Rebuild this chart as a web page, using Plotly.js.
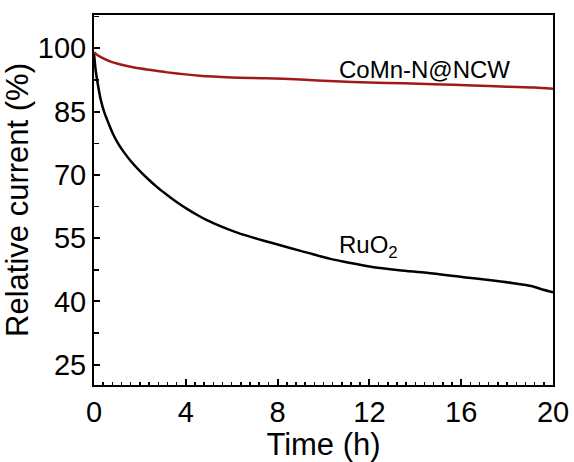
<!DOCTYPE html>
<html>
<head>
<meta charset="utf-8">
<script src="https://cdn.plot.ly/plotly-3.0.1.min.js"></script>
<style>html,body{margin:0;padding:0;background:#fff;}#chart{width:574px;height:462px;}</style>
</head>
<body>
<div id="chart"></div>
<script>
// Time (h) and relative current (%)
const timeCoMn = [0, 0.1, 0.3, 0.7, 1.2, 1.7, 2.4, 3.2, 4.6, 6.0, 7.5, 9.0, 10.5, 12.0, 13.5, 14.8, 16.5, 18.0, 19.2, 20.0];
const currentCoMn = [99.1, 98.6, 97.9, 96.9, 96.1, 95.5, 94.9, 94.3, 93.5, 93.1, 92.9, 92.6, 92.2, 91.9, 91.7, 91.5, 91.2, 90.9, 90.7, 90.4];

const timeRuO2 = [0, 0.03, 0.08, 0.15, 0.29, 0.45, 0.65, 0.82, 1.02, 1.3, 1.6, 1.95, 2.32, 2.75, 3.2, 3.6, 4.07, 4.5, 4.94, 5.35, 5.8, 6.3, 6.83, 7.4, 8.0, 9.0, 10.3, 11.2, 12.0, 13.3, 14.5, 16.2, 17.2, 18.2, 19.1, 19.5, 20.0];
const currentRuO2 = [99.0, 97.0, 94.5, 92.0, 87.9, 84.8, 82.0, 79.8, 77.7, 75.4, 73.3, 71.2, 69.2, 67.1, 65.2, 63.6, 61.9, 60.5, 59.2, 58.2, 57.2, 56.2, 55.3, 54.4, 53.5, 52.0, 50.1, 49.1, 48.3, 47.4, 46.8, 45.7, 45.1, 44.4, 43.6, 42.9, 42.2];

const xTicks = [0, 4, 8, 12, 16, 20];
const yTicks = [25, 40, 55, 70, 85, 100];
const labelCoMn = 'CoMn-N@NCW';
const labelRuO2 = 'RuO<sub>2</sub>';

const font = 'Liberation Sans, Arial, sans-serif';

const traces = [
  {x: timeRuO2, y: currentRuO2, mode: 'lines', line: {color: '#000000', width: 2.5, shape: 'spline', smoothing: 0.8}, showlegend: false},
  {x: timeCoMn, y: currentCoMn, mode: 'lines', line: {color: '#a01a1a', width: 2.5, shape: 'spline', smoothing: 0.8}, showlegend: false}
];

const axisCommon = {
  showline: true, mirror: true, linecolor: '#000', linewidth: 2,
  ticks: 'inside', ticklen: 6, tickwidth: 2, tickcolor: '#000',
  showgrid: false, zeroline: false,
  tickfont: {family: font, size: 29, color: '#000'},
  automargin: false
};

const layout = {
  width: 574, height: 462,
  margin: {l: 94, r: 21, t: 15, b: 77},
  paper_bgcolor: '#fff', plot_bgcolor: '#fff',
  xaxis: Object.assign({}, axisCommon, {
    range: [0, 20], tickvals: xTicks, ticktext: xTicks.map(String),
    minor: {dtick: 0.4, tick0: 0, ticks: 'inside', ticklen: 3, tickwidth: 1.5, tickcolor: '#000'},
    title: {text: 'Time (h)', font: {family: font, size: 31, color: '#000'}, standoff: 2}
  }),
  yaxis: Object.assign({}, axisCommon, {
    range: [20.2, 107.9], tickvals: yTicks, ticktext: yTicks.map(String),
    minor: {dtick: 7.5, tick0: 25, ticks: 'inside', ticklen: 5, tickwidth: 1.5, tickcolor: '#000'},
    title: {text: 'Relative current (%)', font: {family: font, size: 31, color: '#000'}, standoff: 6}
  }),
  annotations: [
    {x: 14.4, y: 95.1, xref: 'x', yref: 'y', text: labelCoMn, showarrow: false, xanchor: 'center', yanchor: 'middle', font: {family: font, size: 24, color: '#000'}},
    {x: 10.6, y: 53.0, xref: 'x', yref: 'y', text: labelRuO2, showarrow: false, xanchor: 'left', yanchor: 'middle', font: {family: font, size: 24, color: '#000'}}
  ]
};

Plotly.newPlot('chart', traces, layout, {staticPlot: true, displayModeBar: false});
</script>
</body>
</html>
